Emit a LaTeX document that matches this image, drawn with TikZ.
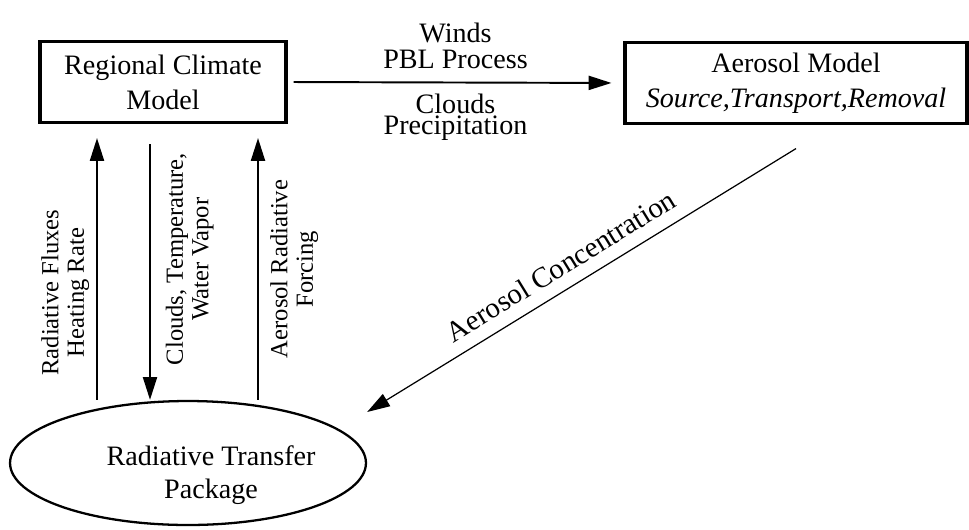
\documentclass[tikz,border=0pt]{standalone}
\usepackage{fontspec}
\setmainfont{Liberation Serif}
\usetikzlibrary{shapes.geometric,arrows.meta,positioning,calc}

\begin{document}
\begin{tikzpicture}[x=0.02cm,y=0.02cm,semithick,>={Triangle[length=13pt,width=8pt]}]

		% Styles for the boxes and arrows
		\tikzstyle{model}=[rectangle,draw,line width=1.8pt,minimum width=4.92cm,minimum height=1.62cm,align=center,font=\fontsize{16}{20}\selectfont]
		\tikzstyle{package}=[ellipse,draw,line width=1.3pt,minimum width=7.12cm,minimum height=2.48cm]
		\tikzstyle{flow}=[->,line width=1.1pt]
		\tikzstyle{txt}=[align=center,inner sep=2pt,font=\fontsize{16}{15}\selectfont]
		\tikzstyle{vtxt}=[align=center,inner sep=2pt,rotate=90,font=\fontsize{14}{14.5}\selectfont]

		\useasboundingbox (0,0) rectangle (969,529);

		% Models
		\node[model] (rcm) at (163,447) {Regional Climate\\Model};
		\node[model,minimum width=6.84cm] (aero) at (796,446) {Aerosol Model\\\textit{Source,Transport,Removal}};
		\node[package] (rtp) at (188,66) {};
		\node[txt,font=\fontsize{16}{19}\selectfont] (rtplabel) at (211,54) {Radiative Transfer\\Package};

		% Columns of the vertical arrows
		\coordinate (c1) at (97,0);
		\coordinate (c2) at (150,0);
		\coordinate (c3) at (258,0);

		% Climate model -> aerosol model
		\draw[flow,shorten <=0.12cm,shorten >=0.24cm] (rcm.east)
			-- node[txt,above=5pt] (lwinds) {Winds\\PBL Process}
			   node[txt,below=4pt,font=\fontsize{16}{12}\selectfont] (lclouds) {Clouds\\Precipitation}
			(aero.west);

		% Exchanges with the radiative transfer package
		\draw[flow] (rtp.north -| c1)
			-- node[vtxt,pos=0.41,anchor=south,outer sep=2.5pt] (lflux) {Radiative Fluxes\\Heating Rate}
			([yshift=-0.28cm]rcm.south -| c1);
		\draw[flow] ([yshift=-0.4cm]rcm.south -| c2)
			-- node[vtxt,pos=0.45,anchor=north,outer sep=7pt] (lstate) {Clouds, Temperature,\\Water Vapor}
			(rtp.north -| c2);
		\draw[flow] (rtp.north -| c3)
			-- node[vtxt,pos=0.5,anchor=north,outer sep=5pt] (lforce) {Aerosol Radiative\\Forcing}
			([yshift=-0.28cm]rcm.south -| c3);

		% Aerosol model -> radiative transfer package
		\draw[flow,line width=0.7pt] ([yshift=-0.47cm]aero.south)
			-- node[txt,sloped,above=5pt,pos=0.52,font=\fontsize{16.5}{18}\selectfont] (lconc) {Aerosol Concentration}
			([yshift=1.02cm]rtp.east);

	\end{tikzpicture}
\end{document}
